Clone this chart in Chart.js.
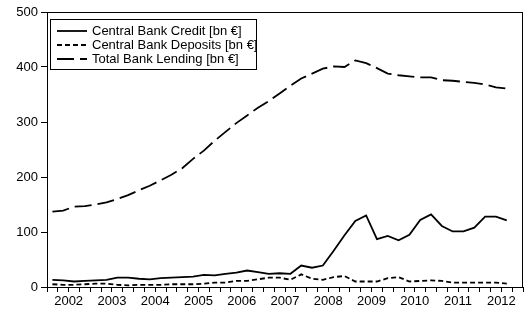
<!DOCTYPE html>
<html>
<head>
<meta charset="utf-8">
<script src="https://cdn.jsdelivr.net/npm/chart.js@4/dist/chart.umd.min.js"></script>
<style>
  html, body { margin: 0; padding: 0; background: #fff; }
</style>
</head>
<body>
<canvas id="chart" width="531" height="314"></canvas>
<script>
// quarterly observations 2002Q1 .. 2012Q3
const quarters = [
    '2002Q1','2002Q2','2002Q3','2002Q4','2003Q1','2003Q2','2003Q3','2003Q4',
    '2004Q1','2004Q2','2004Q3','2004Q4','2005Q1','2005Q2','2005Q3','2005Q4',
    '2006Q1','2006Q2','2006Q3','2006Q4','2007Q1','2007Q2','2007Q3','2007Q4',
    '2008Q1','2008Q2','2008Q3','2008Q4','2009Q1','2009Q2','2009Q3','2009Q4',
    '2010Q1','2010Q2','2010Q3','2010Q4','2011Q1','2011Q2','2011Q3','2011Q4',
    '2012Q1','2012Q2','2012Q3'
];
const yearLabels = ['2002','2003','2004','2005','2006','2007','2008','2009','2010','2011','2012'];
const yTicks = [0, 100, 200, 300, 400, 500];

const credit = [
    13, 12, 10, 11, 12, 13, 17, 17, 15, 14, 16, 17, 18, 19, 22, 21,
    24, 26, 30, 27, 24, 25, 24, 39, 35, 39, 66, 94, 120, 130, 87, 93,
    85, 95, 122, 132, 111, 101, 101, 108, 128, 128, 121
];
const deposits = [
    5, 4, 4, 5, 6, 6, 4, 3, 4, 4, 4, 5, 5, 5, 6, 8,
    8, 11, 11, 14, 17, 17, 13, 23, 15, 13, 18, 20, 10, 10, 10, 16,
    18, 10, 11, 12, 11, 8, 8, 8, 8, 8, 6
];
const lending = [
    137, 139, 146, 147, 150, 154, 160, 167, 176, 184, 194, 204, 216, 233, 248, 266,
    282, 298, 312, 326, 338, 352, 366, 379, 388, 397, 401, 400, 412, 407, 398, 388,
    385, 383, 381, 381, 376, 375, 373, 371, 368, 363, 361
];

const FONT = "'Liberation Sans', Arial, sans-serif";
const xMax = quarters.length + 1; // one empty quarter at the right end

// points sit in the middle of their quarter
function toPoints(values) {
    return values.map((v, i) => ({ x: i + 0.5, y: v }));
}

// frame around the plot area (top and right sides)
const framePlugin = {
    id: 'frame',
    afterDatasetsDraw(chart) {
        const a = chart.chartArea;
        const ctx = chart.ctx;
        ctx.save();
        ctx.strokeStyle = '#000';
        ctx.lineWidth = 1;
        ctx.strokeRect(Math.round(a.left) + 0.5, Math.round(a.top) + 0.5,
            Math.round(a.right - a.left) - 1, Math.round(a.bottom - a.top));
        ctx.restore();
    }
};

// boxed legend in the upper left corner
const boxLegend = {
    id: 'boxLegend',
    afterDraw(chart) {
        const ctx = chart.ctx;
        const left = 50, top = 19, w = 206, h = 50;
        ctx.save();
        ctx.fillStyle = '#fff';
        ctx.fillRect(left, top, w, h);
        ctx.strokeStyle = '#000';
        ctx.lineWidth = 1;
        ctx.strokeRect(left + 0.5, top + 0.5, w, h);
        ctx.font = '13px ' + FONT;
        ctx.textBaseline = 'middle';
        ctx.fillStyle = '#000';
        chart.data.datasets.forEach((ds, i) => {
            const y = top + 12 + i * 14;
            ctx.beginPath();
            ctx.setLineDash(ds.borderDash || []);
            ctx.lineWidth = ds.borderWidth;
            ctx.moveTo(left + 7, y);
            ctx.lineTo(left + 37, y);
            ctx.stroke();
            ctx.setLineDash([]);
            ctx.fillText(ds.label, left + 42, y);
        });
        ctx.restore();
    }
};

new Chart(document.getElementById('chart'), {
    type: 'line',
    data: {
        datasets: [
            {
                label: 'Central Bank Credit [bn €]',
                data: toPoints(credit),
                borderColor: '#000',
                borderWidth: 1.8,
                pointRadius: 0,
                tension: 0
            },
            {
                label: 'Central Bank Deposits [bn €]',
                data: toPoints(deposits),
                borderColor: '#000',
                borderWidth: 1.8,
                borderDash: [5, 3],
                pointRadius: 0,
                tension: 0
            },
            {
                label: 'Total Bank Lending [bn €]',
                data: toPoints(lending),
                borderColor: '#000',
                borderWidth: 1.8,
                borderDash: [17, 6],
                pointRadius: 0,
                tension: 0
            }
        ]
    },
    options: {
        responsive: false,
        devicePixelRatio: 1,
        animation: false,
        layout: { padding: { top: 12, right: 8, left: 0, bottom: 0 } },
        plugins: {
            legend: { display: false },
            tooltip: { enabled: false }
        },
        scales: {
            x: {
                type: 'linear',
                min: 0,
                max: xMax,
                afterBuildTicks: s => {
                    const t = [];
                    for (let q = 0; q <= xMax; q++) t.push({ value: q });
                    s.ticks = t;
                },
                afterFit: s => { s.height = 27; },
                ticks: {
                    autoSkip: false,
                    maxRotation: 0,
                    minRotation: 0,
                    padding: 2,
                    color: '#000',
                    font: { family: FONT, size: 13 },
                    callback: v => (v % 4 === 2 ? yearLabels[(v - 2) / 4] : '')
                },
                grid: { drawOnChartArea: false, tickLength: 5, color: '#000' },
                border: { display: true, color: '#000', width: 1 }
            },
            y: {
                min: 0,
                max: 500,
                afterBuildTicks: s => { s.ticks = yTicks.map(v => ({ value: v })); },
                afterFit: s => { s.width = 47; },
                ticks: {
                    padding: 3,
                    color: '#000',
                    font: { family: FONT, size: 13 }
                },
                grid: { drawOnChartArea: false, tickLength: 6, color: '#000' },
                border: { display: true, color: '#000', width: 1 }
            }
        }
    },
    plugins: [framePlugin, boxLegend]
});
</script>
</body>
</html>
